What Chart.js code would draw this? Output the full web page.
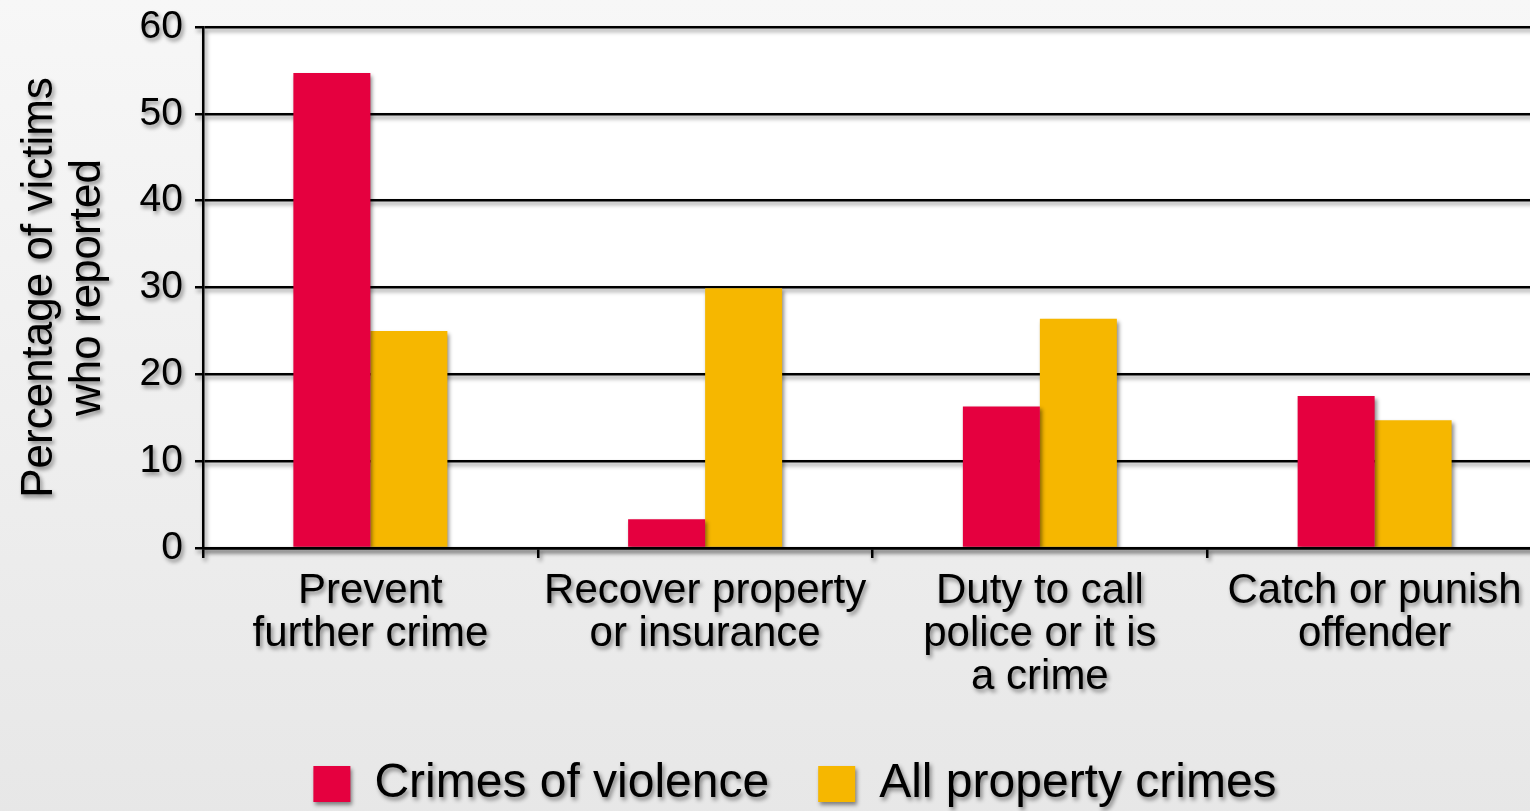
<!DOCTYPE html>
<html>
<head>
<meta charset="utf-8">
<script src="https://cdn.jsdelivr.net/npm/chart.js@4.4.1/dist/chart.umd.min.js"></script>
<style>
  html, body { margin: 0; padding: 0; overflow: hidden; background: #ececec; width: 1530px; height: 811px; }
  canvas { display: block; }
</style>
</head>
<body>
<canvas id="c" width="1542" height="818"></canvas>
<script>
const categories = [
  ['Prevent', 'further crime'],
  ['Recover property', 'or insurance'],
  ['Duty to call', 'police or it is', 'a crime'],
  ['Catch or punish', 'offender']
];
const seriesNames = ['Crimes of violence', 'All property crimes'];
const violence = [54.7, 3.3, 16.3, 17.5];
const property = [25.0, 29.9, 26.4, 14.7];
const yTicks = [0, 10, 20, 30, 40, 50, 60];
const yTitle = ['Percentage of victims', 'who reported'];

const FONT = "'Liberation Sans', Arial, Helvetica, sans-serif";

const backdrop = {
  id: 'backdrop',
  beforeDraw(chart) {
    const ctx = chart.ctx;
    const {width, height, chartArea} = chart;
    ctx.save();
    const g = ctx.createLinearGradient(0, 0, 0, height);
    g.addColorStop(0, '#f7f7f7');
    g.addColorStop(1, '#e7e7e7');
    ctx.fillStyle = g;
    ctx.fillRect(0, 0, width, height);
    ctx.fillStyle = '#ffffff';
    ctx.fillRect(chartArea.left, chartArea.top, chartArea.right - chartArea.left, chartArea.bottom - chartArea.top);
    ctx.restore();
    ctx.shadowColor = 'rgba(0,0,0,0.45)';
    ctx.shadowOffsetX = 2;
    ctx.shadowOffsetY = 3;
    ctx.shadowBlur = 4;
  },
  afterDraw(chart) {
    const ctx = chart.ctx;
    ctx.shadowColor = 'rgba(0,0,0,0)';
    ctx.shadowOffsetX = 0;
    ctx.shadowOffsetY = 0;
    ctx.shadowBlur = 0;
  },
  afterLayout(chart) {
    if (chart.legend) {
      chart.legend.left += 24;
      chart.legend.right += 24;
    }
  }
};

new Chart(document.getElementById('c'), {
  type: 'bar',
  data: {
    labels: categories,
    datasets: [
      { label: seriesNames[0], data: violence, backgroundColor: '#E5003F', borderWidth: 0 },
      { label: seriesNames[1], data: property, backgroundColor: '#F6B700', borderWidth: 0 }
    ]
  },
  options: {
    responsive: false,
    animation: false,
    devicePixelRatio: 1,
    layout: { padding: { top: 27, right: 0, bottom: 0, left: 0 } },
    datasets: { bar: { categoryPercentage: 0.46, barPercentage: 1.0 } },
    plugins: {
      tooltip: { enabled: false },
      legend: {
        position: 'bottom',
        align: 'center',
        labels: {
          boxWidth: 37,
          boxHeight: 36,
          padding: 49,
          color: '#000',
          font: { family: FONT, size: 48 }
        }
      }
    },
    scales: {
      x: {
        offset: true,
        grid: { display: true, drawOnChartArea: false, drawTicks: true, tickLength: 10, color: '#000', lineWidth: 2.5, offset: true },
        border: { display: true, color: '#000', width: 2.5 },
        ticks: { color: '#000', padding: 12, maxRotation: 0, autoSkip: false, font: { family: FONT, size: 42, lineHeight: '43px' } }
      },
      y: {
        min: 0,
        max: 60,
        afterBuildTicks(scale) { scale.ticks = yTicks.map(v => ({ value: v })); },
        afterFit(scale) { scale.width = 203; },
        grid: { color: '#000', lineWidth: 2.5, tickLength: 8, drawTicks: true },
        border: { display: true, color: '#000', width: 2.5 },
        ticks: { color: '#000', padding: 12, font: { family: FONT, size: 39, lineHeight: '20px' } },
        title: {
          display: true,
          text: yTitle,
          color: '#000',
          padding: { top: 16, bottom: 0 },
          font: { family: FONT, size: 44, lineHeight: '48px' }
        }
      }
    }
  },
  plugins: [backdrop]
});
</script>
</body>
</html>
